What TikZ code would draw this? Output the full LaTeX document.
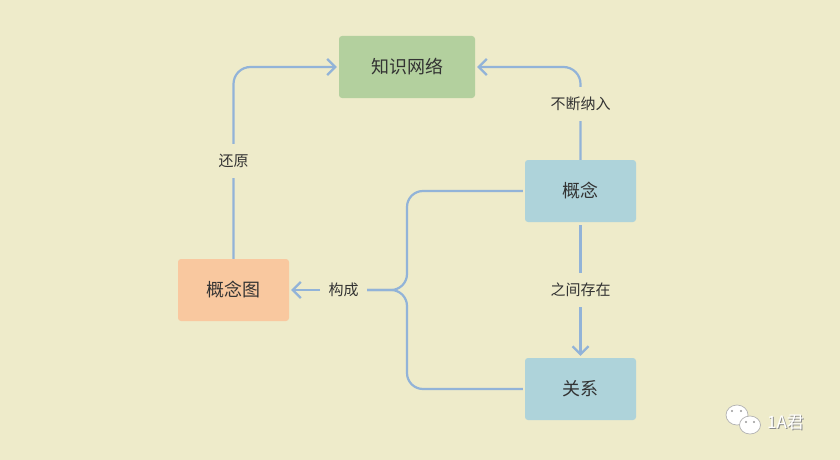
\documentclass[tikz,border=0pt]{standalone}
\usepackage{fontspec}
\setmainfont{Noto Sans CJK SC}
\usetikzlibrary{arrows.meta}
\definecolor{bg}{HTML}{EEEBCA}
\definecolor{gbox}{HTML}{B3D09E}
\definecolor{bbox}{HTML}{AED3DA}
\definecolor{obox}{HTML}{F9C89F}
\definecolor{ln}{HTML}{92B3D8}
\definecolor{tx}{HTML}{333333}
\tikzset{
  box/.style={rectangle, rounded corners=3pt, minimum height=62pt, inner sep=0pt, text=tx, font=\fontsize{18}{18}\selectfont},
  conn/.style={draw=ln, line width=2.2pt},
  arr/.style={conn, -{Straight Barb[length=8pt,width=16pt,line width=2.2pt]}, shorten >=2pt},
  lbl/.style={fill=bg, inner sep=0pt, minimum height=34pt, minimum width=46pt, text=tx, font=\fontsize{15}{15}\selectfont},
  wmtext/.style={font=\fontsize{17}{17}\selectfont, anchor=west, inner sep=0pt},
}
\begin{document}
\begin{tikzpicture}[x=1pt,y=-1pt]
\fill[bg] (0,0) rectangle (840,460);
\useasboundingbox (0,0) rectangle (840,460);
% boxes
\node[box, fill=gbox, minimum width=136pt] (net) at (407,67) {知识网络};
\node[box, fill=bbox, minimum width=111pt] (con) at (580.5,191) {概念};
\node[box, fill=bbox, minimum width=111pt] (rel) at (580.5,389) {关系};
\node[box, fill=obox, minimum width=111pt] (map) at (233.5,290) {概念图};
% helper coordinates
\coordinate (bx1) at (407,191);
\coordinate (bx2) at (407,389);
\coordinate (bj) at (407,290);
\coordinate (bend) at (366,290);
\coordinate (bstart) at (320,290);
% connectors
\draw[arr, rounded corners=17pt] (map.north) |- (net.west);
\draw[arr, rounded corners=17pt] (con.north) |- (net.east);
\draw[arr, shorten <=3pt] (con.south) -- (rel.north);
\draw[conn, rounded corners=16pt, shorten <=2pt] (con.west) -- (bx1) -- (bj) -- (bend);
\draw[conn, rounded corners=16pt, shorten <=2pt] (rel.west) -- (bx2) -- (bj) -- (bend);
\draw[arr] (bstart) -- (map.east);
% labels
\node[lbl] (l1) at (233.5,161) {还原};
\node[lbl] (l2) at (580.5,104) {不断纳入};
\node[lbl] (l3) at (580.5,290) {之间存在};
\node[lbl] (l4) at (343.5,290) {构成};
% watermark
\fill[white, draw=black!30, line width=0.7pt] (737,415) ellipse (11pt and 10pt);
\fill[white, draw=black!30, line width=0.7pt] (750,425) ellipse (10.5pt and 9pt);
\fill[black!40] (732,411) circle (1.1pt) (741,411) circle (1.1pt) (746,422) circle (1.1pt) (754,422) circle (1.1pt);
\node[wmtext, text=black!45] (wm) at (768,423) {1A君};
\node[wmtext, text=white] (wm2) at (767,422) {1A君};
\end{tikzpicture}
\end{document}
